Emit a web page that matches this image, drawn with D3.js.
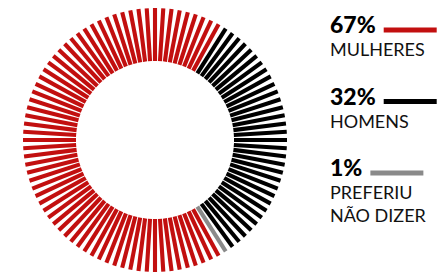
<!DOCTYPE html>
<html>
<head>
<meta charset="utf-8">
<script src="https://cdn.jsdelivr.net/npm/d3@7"></script>
<style>
  html, body { margin: 0; padding: 0; background: #fff; }
  svg { display: block; }
</style>
</head>
<body>
<svg id="chart" width="442" height="273"></svg>
<script>
// ---- data ----
const categories = ["MULHERES", "HOMENS", "PREFERIU NÃO DIZER"];
const values = [67, 32, 1];
const percentLabels = ["67%", "32%", "1%"];
const labelLines = [["MULHERES"], ["HOMENS"], ["PREFERIU", "NÃO DIZER"]];
const colors = ["#c20f0f", "#000000", "#8a8a8a"];

// ---- layout ----
const svg = d3.select("#chart");
const cx = 155, cy = 140;
const rInner = 79, rOuter = 132;
const totalBars = d3.sum(values);
const startIndex = 42; // first bar of the first category

// expand categories into one entry per bar (each bar = 1%)
const bars = [];
let k = 0;
values.forEach((v, ci) => {
  for (let j = 0; j < v; j++) {
    bars.push({ cat: ci, pos: (startIndex + k) % totalBars });
    k++;
  }
});

const angle = d3.scaleLinear().domain([0, totalBars]).range([0, 2 * Math.PI]);
const color = d3.scaleOrdinal().domain(d3.range(categories.length)).range(colors);

const g = svg.append("g").attr("transform", `translate(${cx},${cy})`);
g.selectAll("line.bar")
  .data(bars)
  .join("line")
  .attr("class", "bar")
  .attr("x1", d => d3.pointRadial(angle(d.pos), rInner)[0])
  .attr("y1", d => d3.pointRadial(angle(d.pos), rInner)[1])
  .attr("x2", d => d3.pointRadial(angle(d.pos), rOuter)[0])
  .attr("y2", d => d3.pointRadial(angle(d.pos), rOuter)[1])
  .attr("stroke", d => color(d.cat))
  .attr("stroke-width", 4.1)
  .attr("stroke-linecap", "butt");

// ---- legend ----
const legendX = 330;
const legendY = d3.scalePoint().domain(d3.range(categories.length)).range([33, 176]);
const lineLen = 53;

const leg = svg.append("g");
categories.forEach((c, i) => {
  const y = legendY(i);
  const num = leg.append("text")
    .attr("x", legendX)
    .attr("y", y)
    .attr("font-family", "Lato, 'Open Sans', sans-serif")
    .attr("font-weight", 900)
    .attr("font-size", 23)
    .attr("fill", "#000")
    .text(percentLabels[i]);
  const w = num.node().getComputedTextLength();
  leg.append("line")
    .attr("x1", legendX + w + 8)
    .attr("x2", legendX + w + 8 + lineLen)
    .attr("y1", y - 3)
    .attr("y2", y - 3)
    .attr("stroke", colors[i])
    .attr("stroke-width", 4.8);
  labelLines[i].forEach((t, li) => {
    leg.append("text")
      .attr("x", legendX)
      .attr("y", y + 23 + li * 23)
      .attr("font-family", "Lato, 'Open Sans', sans-serif")
      .attr("font-weight", 400)
      .attr("font-size", 18)
      .attr("fill", "#111")
      .text(t);
  });
});
</script>
</body>
</html>
